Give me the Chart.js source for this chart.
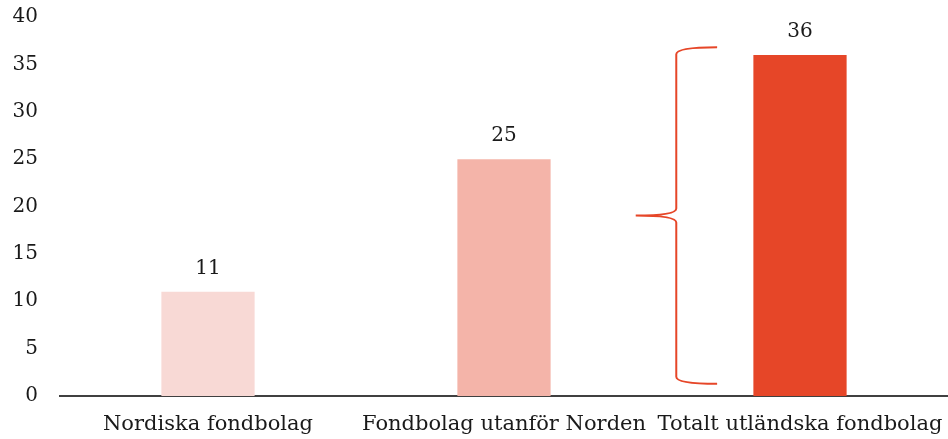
<!DOCTYPE html>
<html>
<head>
<meta charset="utf-8">
<script src="https://cdn.jsdelivr.net/npm/chart.js@4/dist/chart.umd.min.js"></script>
<style>
html,body{margin:0;padding:0;background:#fff;}
#wrap{width:948px;height:439px;}
</style>
</head>
<body>
<div id="wrap"><canvas id="c" width="948" height="439"></canvas></div>
<script>
const categories = ["Nordiska fondbolag", "Fondbolag utanför Norden", "Totalt utländska fondbolag"];
const values = [11, 25, 36];
const barColors = ["#f8d9d5", "#f4b4a9", "#e64628"];
const yTicks = [0, 5, 10, 15, 20, 25, 30, 35, 40];
const braceRange = [1.3, 36.8];

const FONT = "'DejaVu Serif', Georgia, serif";

const valueLabels = {
  id: 'valueLabels',
  afterDatasetsDraw(chart) {
    const ctx = chart.ctx;
    const meta = chart.getDatasetMeta(0);
    ctx.save();
    ctx.font = "20px " + FONT;
    ctx.fillStyle = "#1a1a1a";
    ctx.textAlign = "center";
    ctx.textBaseline = "middle";
    meta.data.forEach((bar, i) => {
      ctx.fillText(String(values[i]), bar.x, bar.y - 23);
    });
    ctx.restore();
  }
};

const brace = {
  id: 'brace',
  afterDatasetsDraw(chart) {
    const ctx = chart.ctx;
    const xs = chart.scales.x, ys = chart.scales.y;
    const step = xs.getPixelForValue(1) - xs.getPixelForValue(0);
    const cx = xs.getPixelForValue(2);
    const xArm = cx - step * 0.28;
    const xV = cx - step * 0.418;
    const xTip = cx - step * 0.555;
    const yTop = ys.getPixelForValue(braceRange[1]);
    const yBot = ys.getPixelForValue(braceRange[0]);
    const yMid = (yTop + yBot) / 2;
    const r = 7;
    ctx.save();
    ctx.strokeStyle = "#e64628";
    ctx.lineWidth = 2;
    ctx.beginPath();
    ctx.moveTo(xArm, yTop);
    ctx.quadraticCurveTo(xV, yTop, xV, yTop + r);
    ctx.lineTo(xV, yMid - r);
    ctx.quadraticCurveTo(xV, yMid, xTip, yMid);
    ctx.quadraticCurveTo(xV, yMid, xV, yMid + r);
    ctx.lineTo(xV, yBot - r);
    ctx.quadraticCurveTo(xV, yBot, xArm, yBot);
    ctx.stroke();
    ctx.restore();
  }
};

new Chart(document.getElementById('c'), {
  type: 'bar',
  data: {
    labels: categories,
    datasets: [{
      data: values,
      backgroundColor: barColors,
      borderWidth: 0,
      barPercentage: 0.315,
      categoryPercentage: 1.0
    }]
  },
  options: {
    responsive: false,
    animation: false,
    devicePixelRatio: 1,
    layout: { padding: { top: 17, right: 0, left: 0, bottom: 0 } },
    plugins: { legend: { display: false }, tooltip: { enabled: false } },
    scales: {
      x: {
        grid: { display: false, drawTicks: false },
        border: { display: true, color: "#404040", width: 2 },
        ticks: { color: "#1a1a1a", font: { family: FONT, size: 21 }, padding: 16, maxRotation: 0, autoSkip: false },
        afterFit(s) { s.height = 43; s.paddingLeft = 0; s.paddingRight = 0; s.paddingTop = 0; s.paddingBottom = 0; }
      },
      y: {
        min: 0, max: 40,
        afterBuildTicks(s) { s.ticks = yTicks.map(v => ({ value: v })); },
        grid: { display: false, drawTicks: false },
        border: { display: false },
        ticks: { color: "#1a1a1a", font: { family: FONT, size: 20 }, padding: 22 },
        afterFit(s) { s.width = 60; s.paddingTop = 0; s.paddingBottom = 0; s.paddingLeft = 0; s.paddingRight = 0; }
      }
    }
  },
  plugins: [valueLabels, brace]
});
</script>
</body>
</html>
